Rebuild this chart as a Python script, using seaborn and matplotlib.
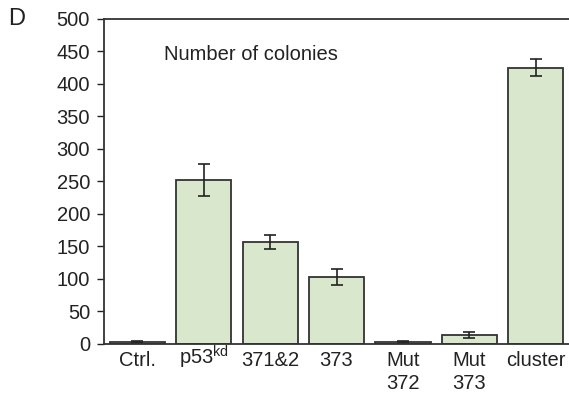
import matplotlib
matplotlib.use("Agg")
import matplotlib.pyplot as plt
import seaborn as sns
import pandas as pd

categories = ["Ctrl.", "p53kd", "371&2", "373", "Mut\n372", "Mut\n373", "cluster"]
values = [3, 252, 157, 103, 3, 14, 425]
errors = [1, 25, 11, 13, 1, 4.5, 13]
yticks = [0, 50, 100, 150, 200, 250, 300, 350, 400, 450, 500]

sns.set_style("white")
plt.rcParams['font.family'] = ['Liberation Sans', 'DejaVu Sans']
plt.rcParams['mathtext.fontset'] = 'custom'
plt.rcParams['mathtext.rm'] = 'Liberation Sans'

df = pd.DataFrame({"cat": categories, "val": values})

fig = plt.figure(figsize=(5.69, 3.98), dpi=100)
ax = fig.add_axes([0.1828, 0.1357, 0.8172, 0.8166])

sns.barplot(data=df, x="cat", y="val", color="#d9e8cc", saturation=1,
            edgecolor="#333333", linewidth=1.3, width=0.83, ax=ax, errorbar=None)
ax.errorbar(range(len(values)), values, yerr=errors, fmt="none",
            ecolor="#222222", elinewidth=1.2, capsize=4, capthick=1.2)

ax.set_xlim(-0.5, 6.5)
ax.set_ylim(0, 500)
ax.set_yticks(yticks)
ax.set_xlabel("")
ax.set_ylabel("")
fs = 14.5
ax.tick_params(axis="y", which="both", left=True, length=5, width=1, labelsize=fs, colors="#222222", pad=5)
ax.tick_params(axis="x", bottom=False, labelsize=fs, colors="#222222", pad=1.5)

# x tick labels; the superscript one is drawn on its baseline so it lines up
labels = []
for c in categories:
    labels.append("" if c == "p53kd" else c)
ax.set_xticks(range(len(categories)))
ax.set_xticklabels(labels, linespacing=1.25)
ax.annotate(r"p53$^{\mathrm{kd}}$", xy=(categories.index("p53kd"), 0),
            xycoords=("data", "axes fraction"), xytext=(0, -21),
            textcoords="offset pixels", ha="center", va="baseline",
            fontsize=fs, color="#222222", annotation_clip=False)

for s in ["left", "bottom", "top"]:
    ax.spines[s].set_visible(True)
    ax.spines[s].set_color("#333333")
    ax.spines[s].set_linewidth(1.3)
ax.spines["right"].set_visible(False)

ax.text(0.13, 0.89, "Number of colonies", transform=ax.transAxes, fontsize=fs,
        color="#222222", va="center", ha="left")
fig.text(0.014, 0.952, "D", fontsize=17, color="#222222", va="center", ha="left")

fig.savefig("out.png", dpi=100)
